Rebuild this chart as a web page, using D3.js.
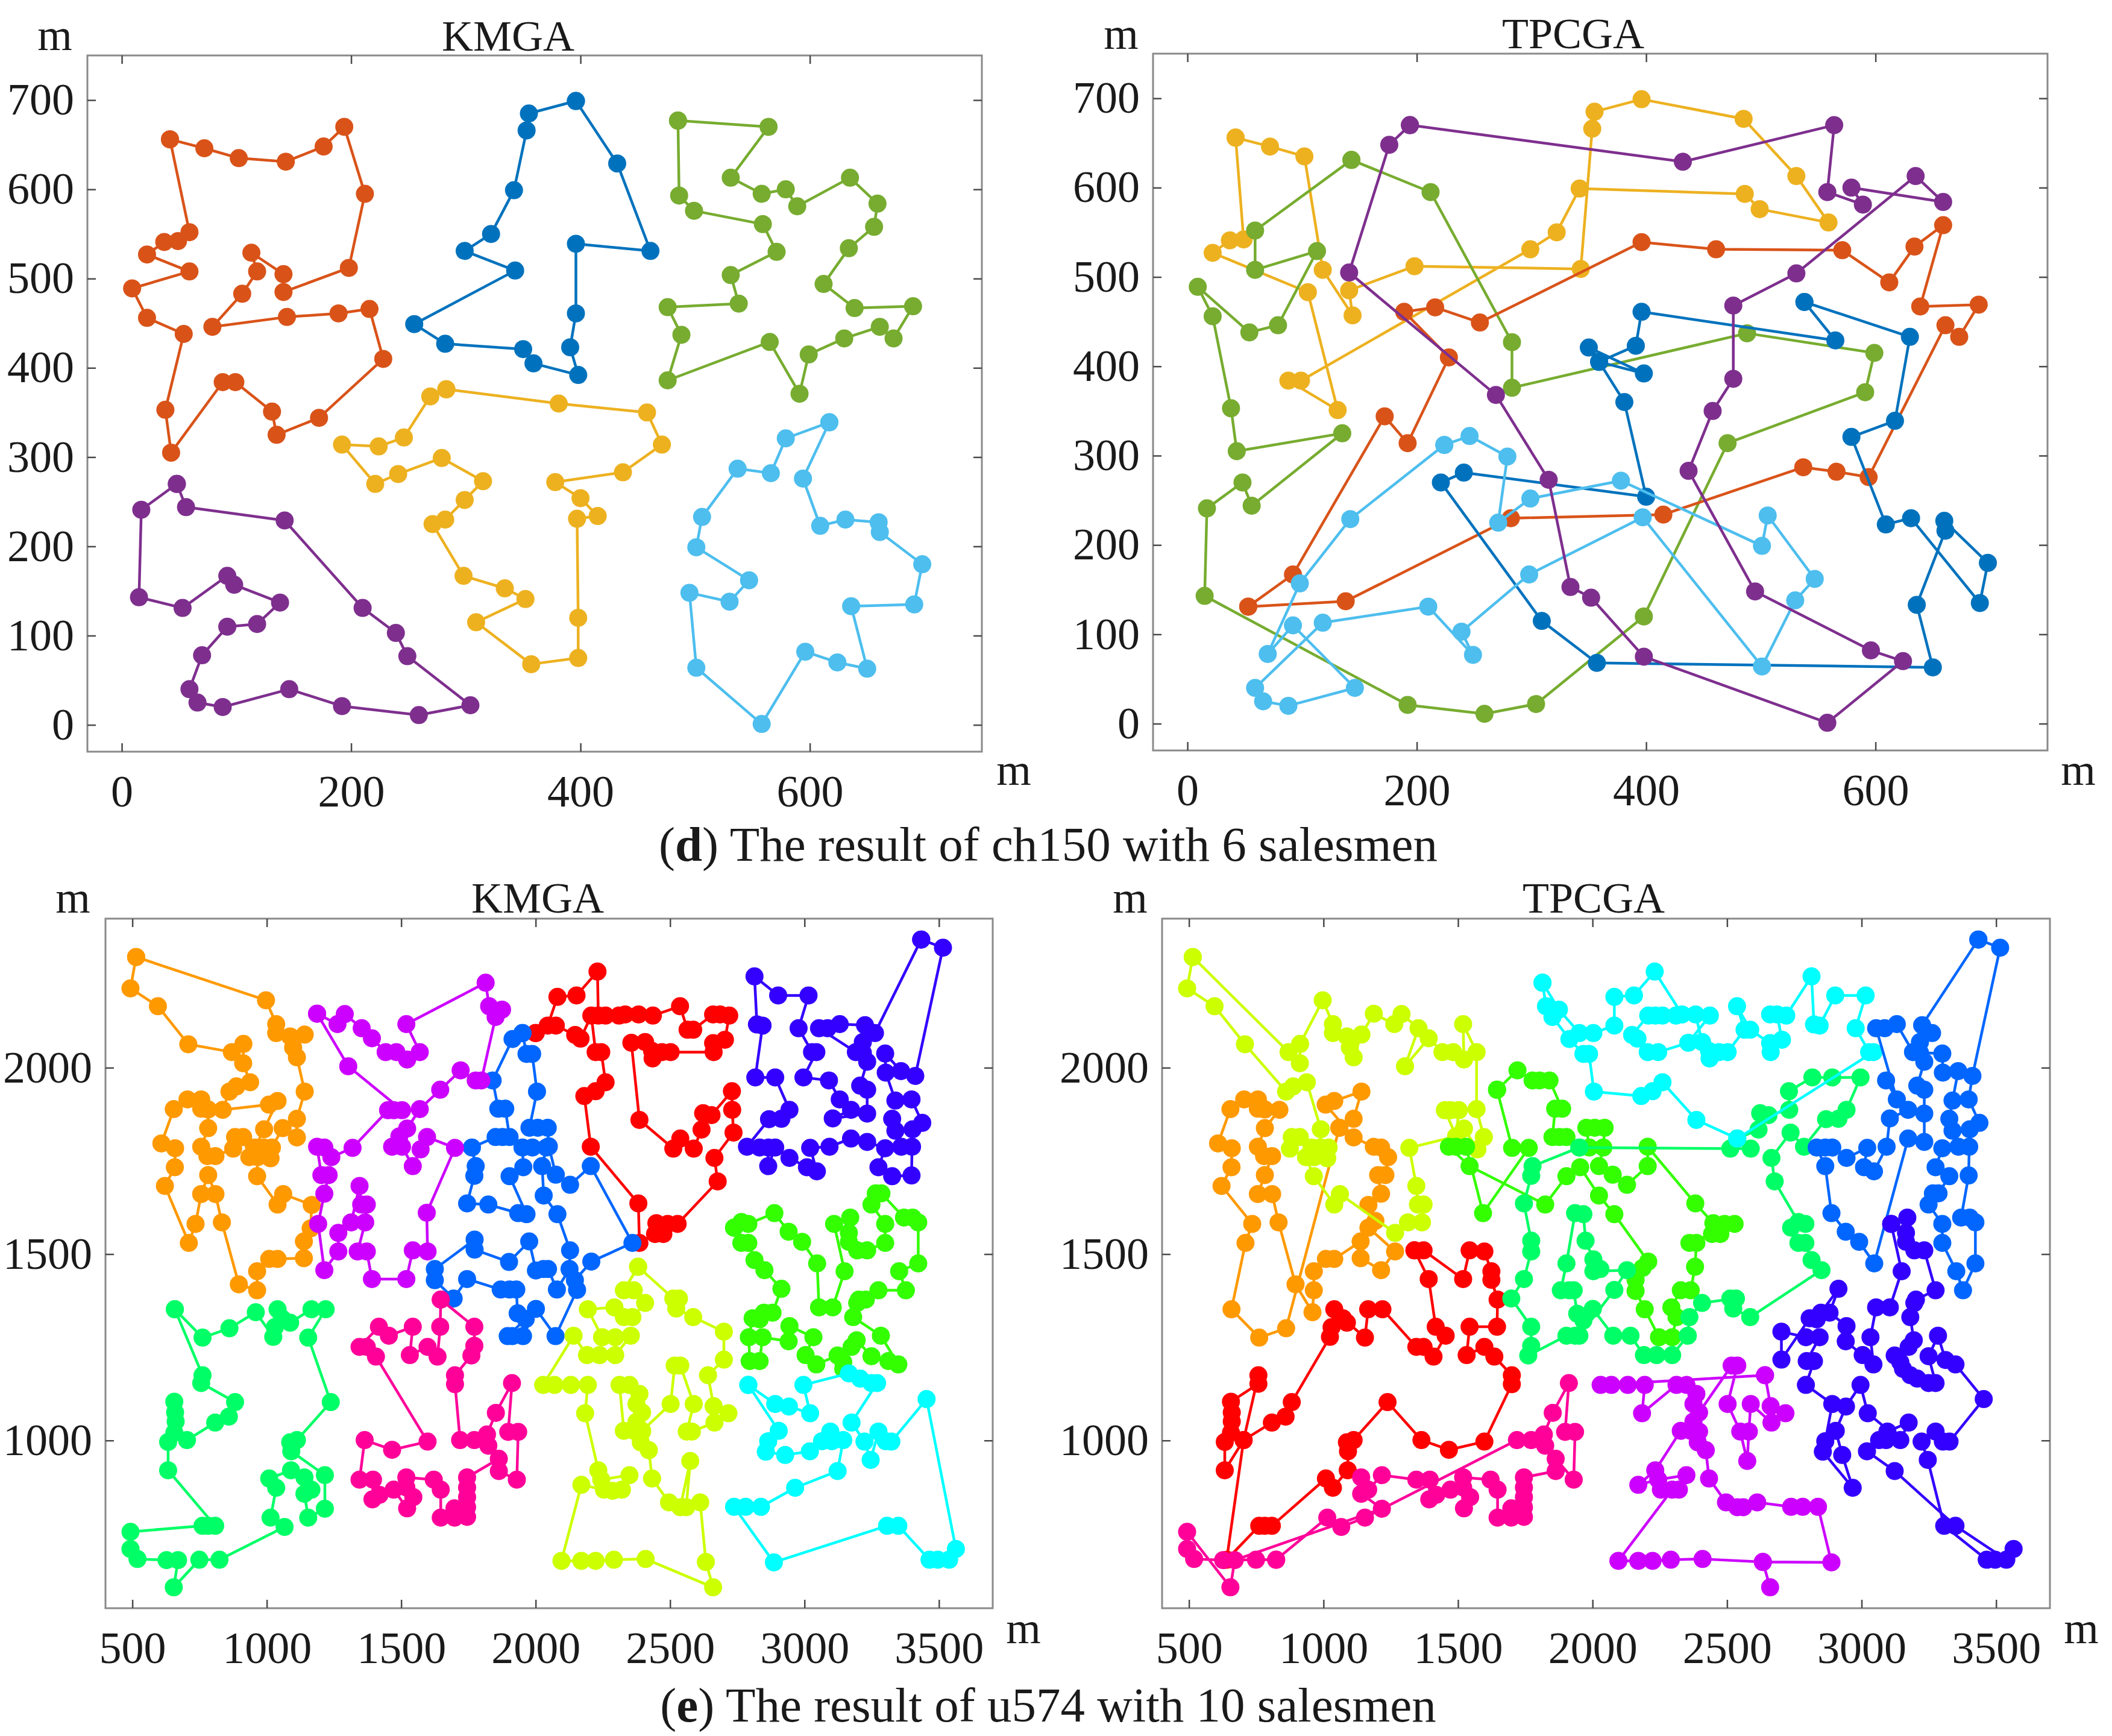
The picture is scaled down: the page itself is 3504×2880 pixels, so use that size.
<!DOCTYPE html>
<html><head><meta charset="utf-8">
<script src="https://d3js.org/d3.v7.min.js"></script>
<style>html,body{margin:0;padding:0;background:#fff}svg{display:block}text{font-family:"Liberation Serif",serif;fill:#1a1a1a}</style>
</head><body><svg id="c" width="3504" height="2880" viewBox="0 0 3504 2880"></svg>
<script>
// ---- tick labels ----
const ch150XTicks=[0,200,400,600];
const ch150YTicks=[0,100,200,300,400,500,600,700];
const u574XTicks=[500,1000,1500,2000,2500,3000,3500];
const u574YTicks=[1000,1500,2000];
const ch150Domain=[-30,750];
const u574XDomain=[400,3700];
const u574YDomain=[550,2400];
// ---- colours ----
const colOrangeRed="#D95319",colBlue="#0072BD",colGreen="#77AC30",colYellow="#EDB120",colSky="#4DBEEE",colPurple="#7E2F8E";
const hRed="#FF0000",hOrange="#FF9900",hLime="#CCFF00",hGreen="#33FF00",hSpring="#00FF66",hCyan="#00FFFF",hBlue="#0066FF",hIndigo="#3300FF",hViolet="#CC00FF",hPink="#FF0099";
// ---- ch150 KMGA routes ----
const dK_orange=[[42,656],[72,646],[102,635],[143,631],[176,648],[194,670],[212,595],[198,512],[141,485],[141,505],[113,529],[118,508],[105,483],[79,446],[144,457],[189,461],[216,466],[228,410],[172,344],[135,325],[131,351],[99,384],[88,384],[43,305],[38,353],[54,438],[22,456],[9,489],[59,508],[22,527],[37,541],[49,542],[59,552],[42,656]];
const dK_blue=[[396,699],[355,685],[353,666],[342,599],[322,550],[299,531],[343,509],[255,449],[282,427],[350,421],[359,405],[398,392],[391,423],[396,461],[396,539],[461,531],[432,629],[396,699]];
const dK_green=[[485,677],[564,670],[531,613],[558,595],[579,600],[589,581],[635,613],[659,584],[656,558],[634,534],[612,494],[639,467],[690,469],[673,433],[661,446],[630,433],[599,415],[591,371],[565,429],[476,386],[488,437],[476,468],[538,472],[531,504],[571,530],[559,561],[499,576],[486,593],[485,677]];
const dK_yellow=[[283,376],[269,368],[246,322],[224,312],[192,314],[221,270],[241,281],[279,299],[315,273],[299,252],[282,230],[271,225],[298,167],[334,153],[352,141],[309,115],[357,68],[398,75],[398,120],[397,231],[415,234],[400,254],[378,272],[437,283],[471,314],[458,350],[381,360],[283,376]];
const dK_sky=[[617,339],[579,321],[566,282],[537,287],[506,233],[501,199],[547,162],[530,138],[495,148],[501,64],[558,1],[596,82],[624,70],[650,63],[636,133],[691,135],[698,180],[661,216],[660,227],[631,230],[609,223],[594,276],[617,339]];
const dK_purple=[[48,270],[17,241],[15,143],[53,131],[92,167],[98,157],[138,137],[118,113],[92,110],[70,78],[59,40],[66,25],[88,20],[146,40],[192,21],[259,11],[304,22],[249,77],[239,103],[210,131],[142,229],[56,244],[48,270]];
// ---- ch150 TPCGA routes ----
const dT_yellow=[[42,656],[72,646],[102,635],[118,508],[144,457],[141,485],[198,512],[343,509],[353,666],[355,685],[396,699],[485,677],[531,613],[559,561],[499,576],[486,593],[342,599],[322,550],[299,531],[99,384],[88,384],[131,351],[105,483],[22,527],[37,541],[49,542],[42,656]];
const dT_green=[[143,631],[59,552],[59,508],[113,529],[79,446],[54,438],[9,489],[22,456],[38,353],[43,305],[135,325],[56,244],[48,270],[17,241],[15,143],[192,21],[259,11],[304,22],[398,120],[471,314],[591,371],[599,415],[488,437],[283,376],[283,427],[212,595],[143,631]];
const dT_orange=[[53,131],[138,137],[282,230],[415,234],[537,287],[566,282],[594,276],[661,446],[673,433],[690,469],[639,467],[659,558],[634,534],[612,494],[571,530],[461,531],[396,539],[255,449],[216,466],[189,461],[228,410],[192,314],[172,344],[92,167],[53,131]];
const dT_blue=[[538,472],[565,429],[396,461],[391,423],[359,405],[398,392],[350,421],[359,405],[381,360],[400,254],[241,281],[221,270],[309,115],[357,68],[650,63],[636,133],[661,216],[660,227],[698,180],[691,135],[631,230],[609,223],[579,321],[617,339],[630,433],[538,472]];
const dT_sky=[[224,312],[246,322],[279,299],[271,225],[299,252],[378,272],[501,199],[506,233],[547,162],[530,138],[501,64],[397,231],[298,167],[239,103],[249,77],[210,131],[118,113],[59,40],[66,25],[88,20],[146,40],[92,110],[70,78],[98,157],[142,229],[224,312]];
const dT_purple=[[194,670],[176,648],[141,505],[269,368],[315,273],[334,153],[352,141],[398,75],[558,1],[624,70],[596,82],[495,148],[437,283],[458,350],[476,386],[476,468],[531,504],[635,613],[659,584],[579,600],[589,581],[558,595],[564,670],[432,629],[194,670]];
// ---- u574 KMGA routes ----
const eK_orange=[[514,2297],[493,2213],[595,2165],[708,2063],[870,2042],[913,2064],[912,2012],[938,1961],[887,1950],[861,1936],[836,1887],[1008,1901],[1040,1911],[990,1835],[956,1786],[935,1760],[912,1814],[882,1814],[875,1783],[809,1763],[779,1763],[756,1788],[782,1838],[782,1888],[756,1890],[756,1915],[705,1915],[654,1889],[608,1797],[659,1784],[658,1733],[621,1683],[710,1530],[735,1581],[756,1661],[782,1712],[809,1661],[833,1585],[896,1419],[964,1403],[964,1454],[1009,1487],[1040,1487],[1138,1489],[1138,1534],[1163,1569],[1167,1632],[1061,1661],[1040,1633],[964,1709],[966,1760],[988,1786],[1014,1757],[1019,1786],[1059,1838],[1112,1813],[1112,1863],[1141,1936],[1112,2028],[1098,2054],[1141,2089],[1087,2084],[1035,2093],[1035,2117],[997,2181],[514,2297]];
const eK_red=[[2000,2093],[2045,2113],[2081,2190],[2152,2194],[2230,2258],[2233,2140],[2260,2140],[2310,2140],[2333,2143],[2383,2143],[2436,2140],[2537,2165],[2565,2102],[2586,2102],[2660,2143],[2686,2143],[2720,2140],[2704,2075],[2660,2066],[2662,2042],[2502,2042],[2470,2042],[2435,2025],[2433,2045],[2407,2069],[2356,2067],[2386,1860],[2512,1783],[2538,1810],[2588,1783],[2617,1834],[2623,1878],[2654,1873],[2730,1937],[2731,1887],[2736,1826],[2665,1758],[2677,1695],[2528,1581],[2491,1581],[2449,1583],[2475,1554],[2444,1554],[2386,1530],[2382,1636],[2205,1788],[2181,1924],[2223,1937],[2260,1961],[2244,2042],[2223,2042],[2207,2140],[2167,2078],[2147,2088],[2075,2113],[2000,2093]];
const eK_blue=[[1951,2093],[1914,2077],[1840,1966],[1861,1890],[1887,1890],[1903,1814],[1877,1814],[1851,1814],[1763,1786],[1777,1736],[1772,1710],[1745,1636],[1824,1633],[1935,1610],[1966,1607],[1903,1709],[1954,1733],[1951,1786],[1988,1786],[2040,1786],[2024,1736],[2030,1657],[2081,1607],[2128,1510],[2126,1460],[2079,1405],[2046,1460],[2029,1460],[2001,1456],[1976,1534],[1901,1479],[1773,1512],[1773,1539],[1625,1460],[1625,1430],[1695,1381],[1745,1433],[1870,1405],[1903,1405],[1928,1405],[1933,1341],[1963,1326],[1896,1280],[1913,1280],[1953,1280],[2001,1353],[2074,1280],[2154,1404],[2146,1430],[2207,1480],[2360,1530],[2205,1736],[2128,1686],[2075,1713],[2049,1789],[2045,1839],[2008,1839],[1977,1839],[2005,1936],[1987,2037],[1966,2037],[1951,2093]];
const eK_violet=[[1187,2145],[1263,2117],[1290,2144],[1353,2106],[1391,2079],[1442,2042],[1482,2042],[1522,2022],[1569,2042],[1519,2117],[1814,2228],[1827,2165],[1875,2156],[1851,2136],[1798,1966],[1777,1966],[1721,1993],[1645,1941],[1569,1889],[1522,1837],[1493,1816],[1466,1788],[1503,1788],[1543,1736],[1572,1781],[1596,1814],[1700,1785],[1595,1611],[1598,1507],[1543,1510],[1519,1433],[1391,1433],[1372,1507],[1338,1507],[1366,1585],[1372,1633],[1351,1633],[1345,1683],[1314,1585],[1266,1557],[1266,1507],[1214,1457],[1191,1581],[1214,1662],[1230,1712],[1203,1712],[1187,1788],[1214,1786],[1240,1760],[1319,1785],[1451,1886],[1472,1886],[1503,1886],[1303,2004],[1187,2145]];
const eK_indigo=[[3434,2344],[3515,2322],[3412,1978],[3359,1991],[3300,2038],[3302,1987],[3338,1912],[3398,1915],[3438,1852],[3402,1835],[3338,1831],[3326,1863],[3360,1788],[3400,1788],[3398,1711],[3326,1709],[3275,1733],[3300,1784],[3233,1801],[3173,1810],[3093,1788],[3021,1785],[3046,1722],[3009,1733],[2944,1758],[2891,1786],[2865,1736],[2865,1786],[2833,1786],[2786,1788],[2868,1862],[2914,1863],[2944,1887],[2891,1974],[2817,1974],[2844,2113],[2823,2116],[2814,2245],[2902,2194],[3015,2194],[2978,2106],[3028,2042],[3044,2042],[2996,1974],[3091,1966],[3131,1915],[3173,1887],[3105,1864],[3233,1877],[3233,1941],[3207,1952],[3233,2016],[3217,2069],[3217,2040],[3191,2042],[3054,2106],[3086,2106],[3131,2117],[3225,2114],[3262,2093],[3434,2344]];
const eK_green=[[2738,1571],[2765,1586],[2791,1581],[2888,1610],[2941,1560],[2991,1533],[3047,1475],[3054,1357],[3105,1357],[3149,1454],[3110,1581],[3170,1598],[3165,1557],[3165,1533],[3196,1510],[3233,1510],[3300,1530],[3300,1581],[3249,1633],[3265,1663],[3286,1663],[3370,1598],[3402,1598],[3423,1585],[3423,1475],[3352,1454],[3377,1403],[3275,1403],[3228,1378],[3202,1378],[3196,1369],[3181,1331],[3284,1281],[3349,1204],[3312,1213],[3249,1226],[3194,1269],[3175,1251],[3144,1210],[3144,1192],[3123,1228],[3044,1204],[3004,1229],[3033,1277],[2944,1307],[2941,1266],[2844,1277],[2833,1213],[2796,1213],[2793,1277],[2807,1328],[2833,1325],[2849,1343],[2881,1343],[2914,1407],[2851,1457],[2814,1484],[2791,1530],[2765,1530],[2738,1571]];
const eK_lime=[[2381,1466],[2512,1381],[2533,1381],[2523,1354],[2586,1331],[2700,1292],[2700,1217],[2641,1175],[2662,1092],[2717,1073],[2665,1048],[2581,1024],[2562,1024],[2588,1098],[2538,1201],[2517,1201],[2502,1098],[2396,1026],[2365,1026],[2328,1026],[2312,1149],[2349,1149],[2386,1125],[2375,1098],[2396,1075],[2375,1050],[2396,1024],[2391,995],[2421,974],[2433,898],[2496,834],[2538,821],[2575,945],[2560,821],[2612,834],[2633,674],[2660,606],[2409,682],[2291,680],[2223,677],[2170,677],[2096,677],[2170,881],[2254,868],[2286,865],[2321,868],[2349,907],[2244,895],[2233,920],[2184,1073],[2194,1149],[2131,1149],[2070,1149],[2028,1149],[2141,1281],[2191,1229],[2238,1229],[2296,1229],[2354,1281],[2296,1277],[2247,1277],[2194,1352],[2293,1357],[2328,1331],[2360,1331],[2407,1369],[2365,1403],[2328,1403],[2381,1466]];
const eK_cyan=[[2791,1149],[2891,1098],[2942,1091],[3021,1073],[2996,1149],[3165,1180],[3207,1166],[3249,1154],[3270,1154],[3175,1048],[3223,997],[3246,948],[3275,1024],[3302,998],[3323,997],[3454,1111],[3563,709],[3538,680],[3496,680],[3465,680],[3349,771],[3307,771],[2886,673],[2738,822],[2781,822],[2838,822],[2965,873],[3123,918],[3144,1001],[3096,1024],[3102,998],[3065,998],[3020,971],[2928,961],[2856,970],[2865,998],[2904,1026],[2791,1149]];
const eK_spring=[[658,1352],[761,1276],[861,1301],[959,1344],[1024,1278],[1030,1304],[1056,1328],[1040,1352],[1087,1316],[1166,1352],[1219,1352],[1154,1276],[1238,1103],[1112,1001],[1087,995],[1091,971],[1216,907],[1216,817],[1154,793],[1140,857],[1166,868],[1140,901],[1090,920],[1009,898],[1035,873],[1014,793],[1066,768],[824,680],[749,680],[654,606],[670,679],[627,679],[519,682],[493,709],[493,755],[761,771],[782,771],[808,771],[633,920],[633,996],[656,1104],[659,1075],[661,1051],[656,1021],[703,1001],[808,1048],[859,1064],[882,1103],[756,1154],[761,1175],[658,1352]];
const eK_pink=[[1647,1378],[1772,1305],[1772,1254],[1761,1228],[1700,1175],[1700,1151],[1719,1001],[1772,1001],[1824,986],[1819,1016],[1852,1074],[1912,1154],[1898,1023],[1935,1023],[1930,895],[1863,918],[1863,951],[1745,901],[1745,874],[1745,848],[1745,821],[1745,795],[1698,818],[1698,793],[1647,793],[1647,868],[1621,895],[1519,901],[1519,874],[1545,848],[1522,818],[1472,868],[1419,854],[1393,842],[1395,895],[1345,895],[1364,1001],[1466,975],[1598,997],[1406,1225],[1372,1251],[1345,1251],[1417,1305],[1454,1281],[1543,1305],[1532,1229],[1598,1251],[1635,1225],[1645,1305],[1647,1378]];
// ---- u574 TPCGA routes ----
const eT_red=[[1338,1510],[1391,1433],[1417,1305],[1454,1281],[1409,1225],[1372,1251],[1345,1251],[1219,1352],[1166,1352],[1154,1276],[1072,1328],[1087,1316],[1040,1352],[1030,1304],[1024,1278],[882,1103],[859,1064],[808,1048],[703,1001],[633,920],[633,996],[656,1021],[659,1051],[659,1075],[656,1104],[758,1152],[758,1175],[703,1001],[640,680],[761,771],[782,771],[808,771],[1009,898],[1035,873],[1090,920],[1091,971],[1087,995],[1112,1001],[1238,1103],[1364,1001],[1466,975],[1598,997],[1700,1151],[1700,1175],[1635,1225],[1598,1251],[1532,1229],[1543,1305],[1645,1305],[1647,1378],[1624,1431],[1624,1454],[1598,1507],[1543,1510],[1519,1433],[1372,1510],[1338,1510]];
const eT_orange=[[1059,1839],[861,1301],[761,1276],[658,1352],[710,1530],[735,1581],[621,1683],[658,1733],[659,1784],[608,1797],[654,1889],[705,1915],[756,1915],[756,1890],[782,1888],[836,1887],[782,1838],[756,1788],[779,1763],[809,1763],[782,1712],[756,1661],[809,1661],[833,1585],[896,1419],[959,1344],[964,1403],[964,1454],[1009,1487],[1040,1487],[1138,1534],[1138,1489],[1214,1457],[1266,1507],[1167,1571],[1193,1589],[1167,1632],[1214,1662],[1203,1712],[1230,1712],[1240,1760],[1214,1786],[1187,1788],[1112,1813],[1008,1901],[1040,1911],[1141,1936],[1112,1863],[1059,1839]];
const eT_lime=[[514,2297],[870,2042],[912,2012],[913,2064],[997,2181],[1035,2117],[1035,2093],[1087,2084],[1098,2054],[1112,2028],[1141,2089],[1187,2145],[1263,2117],[1290,2144],[1353,2106],[1303,2004],[1391,2079],[1442,2042],[1482,2042],[1522,2022],[1519,2117],[1569,2042],[1569,1889],[1596,1814],[1572,1781],[1522,1837],[1493,1816],[1503,1886],[1472,1886],[1451,1886],[1493,1816],[1319,1785],[1345,1683],[1351,1633],[1372,1633],[1366,1585],[1314,1585],[1266,1557],[1061,1661],[1040,1633],[964,1709],[935,1760],[875,1783],[882,1814],[912,1814],[956,1786],[966,1760],[1014,1757],[1019,1786],[988,1786],[990,1835],[938,1961],[887,1950],[861,1936],[708,2063],[595,2165],[493,2213],[514,2297]];
const eT_green=[[1645,1941],[1721,1993],[1777,1966],[1803,1966],[1840,1966],[1887,1890],[1861,1890],[1851,1814],[1877,1814],[1903,1814],[1988,1786],[1977,1839],[2008,1839],[2045,1839],[2040,1786],[2024,1736],[2075,1713],[2128,1686],[2205,1736],[2205,1788],[2382,1636],[2449,1583],[2491,1581],[2528,1581],[2475,1554],[2444,1554],[2360,1530],[2386,1530],[2381,1466],[2365,1403],[2328,1403],[2293,1357],[2312,1331],[2296,1277],[2247,1277],[2194,1352],[2160,1401],[2160,1431],[2186,1463],[2207,1480],[2081,1607],[2024,1657],[1954,1733],[1903,1709],[1824,1633],[1543,1736],[1466,1788],[1493,1788],[1530,1788],[1593,1610],[1763,1785],[1701,1785],[1645,1941]];
const eT_spring=[[1951,1786],[2512,1783],[2588,1783],[2538,1810],[2617,1834],[2623,1878],[2654,1873],[2731,1887],[2730,1937],[2817,1974],[2891,1974],[2996,1974],[2944,1887],[2914,1863],[2868,1862],[2786,1788],[2736,1826],[2665,1758],[2677,1695],[2765,1586],[2791,1581],[2738,1571],[2765,1530],[2791,1530],[2814,1484],[2851,1457],[2586,1331],[2523,1354],[2512,1381],[2533,1381],[2407,1369],[2360,1331],[2354,1281],[2296,1229],[2238,1229],[2191,1229],[2141,1281],[2077,1281],[2001,1353],[1966,1322],[1943,1340],[1930,1403],[1914,1403],[1882,1403],[1903,1475],[1935,1610],[1966,1607],[1974,1536],[2003,1486],[2029,1460],[2003,1454],[2128,1457],[2081,1404],[1951,1281],[1935,1281],[1903,1281],[1761,1228],[1772,1254],[1772,1305],[1698,1381],[1745,1433],[1772,1507],[1772,1536],[1745,1636],[1772,1710],[1777,1736],[1951,1786]];
const eT_cyan=[[1814,2228],[1875,2156],[1951,2093],[2003,2093],[2081,2113],[2081,2190],[2154,2194],[2231,2258],[2333,2143],[2310,2140],[2260,2140],[2233,2140],[2207,2140],[2147,2088],[2167,2078],[2205,2042],[2244,2042],[2356,2067],[2436,2140],[2383,2143],[2407,2069],[2433,2045],[2435,2025],[2470,2042],[2502,2042],[2565,2102],[2537,2165],[2586,2102],[2660,2066],[2662,2042],[2704,2075],[2686,2143],[2660,2143],[2720,2140],[2814,2245],[2823,2116],[2844,2113],[2902,2194],[3015,2194],[2978,2106],[3028,2042],[3044,2042],[2538,1810],[2386,1860],[2260,1961],[2223,1937],[2181,1924],[2005,1936],[1987,2037],[1966,2037],[1914,2077],[1851,2136],[1827,2165],[1814,2228]];
const eT_blue=[[3434,2344],[3515,2322],[3412,1978],[3398,1915],[3438,1852],[3402,1835],[3400,1788],[3398,1711],[3370,1598],[3402,1598],[3423,1585],[3423,1475],[3377,1403],[3352,1454],[3300,1530],[3300,1581],[3249,1633],[3265,1663],[3286,1663],[3326,1709],[3275,1733],[3300,1784],[3360,1788],[3338,1831],[3326,1863],[3338,1912],[3359,1991],[3302,1987],[3300,2038],[3217,2040],[3191,2042],[3131,2117],[3086,2106],[3054,2106],[3131,1915],[3091,1966],[3173,1887],[3105,1864],[3093,1788],[3046,1722],[3009,1733],[3021,1785],[2944,1758],[2891,1786],[2865,1786],[2833,1786],[2865,1736],[2888,1610],[2941,1560],[2991,1533],[3047,1475],[3173,1810],[3233,1801],[3233,1877],[3233,1941],[3207,1952],[3233,2016],[3217,2069],[3262,2093],[3225,2114],[3434,2344]];
const eT_indigo=[[3110,1581],[3170,1598],[3165,1557],[3165,1533],[3196,1510],[3233,1510],[3275,1403],[3202,1378],[3196,1369],[3181,1331],[3194,1269],[3175,1251],[3123,1228],[3144,1210],[3154,1192],[3181,1175],[3207,1166],[3249,1154],[3275,1154],[3249,1226],[3284,1281],[3312,1216],[3349,1204],[3454,1111],[3327,997],[3302,997],[3275,1024],[3223,997],[3246,948],[3307,771],[3465,680],[3496,680],[3565,709],[3538,680],[3349,771],[3123,918],[3020,971],[3065,1001],[3091,1001],[3096,1024],[3175,1048],[3144,1001],[3023,1073],[2996,1149],[2942,1091],[2904,1026],[2928,961],[2967,873],[2856,970],[2865,998],[2891,1098],[2793,1149],[2823,1213],[2796,1213],[2844,1277],[2793,1277],[2702,1292],[2702,1217],[2807,1328],[2833,1325],[2849,1343],[2914,1407],[2881,1343],[2944,1307],[2941,1266],[3004,1229],[3044,1204],[3033,1277],[3054,1357],[3105,1357],[3149,1454],[3110,1581]];
const eT_violet=[[2641,1175],[2030,1149],[2070,1149],[2131,1149],[2194,1149],[2184,1073],[2312,1149],[2349,1149],[2386,1125],[2375,1098],[2375,1051],[2365,1026],[2328,1026],[2233,920],[2170,881],[2244,895],[2349,907],[2321,868],[2254,868],[2296,868],[2096,677],[2170,677],[2223,677],[2291,680],[2409,682],[2633,674],[2660,606],[2633,674],[2888,673],[2838,822],[2781,822],[2738,822],[2612,834],[2560,821],[2538,821],[2496,834],[2433,898],[2421,974],[2391,995],[2396,1024],[2396,1075],[2517,1201],[2538,1201],[2502,1098],[2549,1024],[2575,945],[2581,1024],[2588,1098],[2665,1048],[2717,1073],[2662,1092],[2641,1175]];
const eT_pink=[[824,680],[749,680],[627,679],[519,682],[493,709],[493,755],[654,606],[670,679],[1217,817],[1140,857],[1140,901],[1166,868],[1217,907],[1345,895],[1395,895],[1393,842],[1419,854],[1472,868],[1519,874],[1522,818],[1545,848],[1519,901],[1621,895],[1647,868],[1647,793],[1698,793],[1698,818],[1745,795],[1745,821],[1745,848],[1745,874],[1745,901],[1863,918],[1863,951],[1930,895],[1935,1023],[1898,1023],[1912,1154],[1852,1074],[1819,1016],[1824,986],[1772,1001],[1719,1001],[1154,793],[1066,768],[1014,793],[824,680]];

const svg=d3.select("#c");
svg.append("rect").attr("width",3504).attr("height",2880).attr("fill","#fff");
const FS=74;
const panels=[
 {title:"KMGA",box:[145,92,1629,1247],xd:ch150Domain,yd:ch150Domain,xt:ch150XTicks,yt:ch150YTicks,tp:[843,84],m1:[91,83],m2:[1682,1302],
  routes:[[dK_orange,colOrangeRed],[dK_blue,colBlue],[dK_green,colGreen],[dK_yellow,colYellow],[dK_sky,colSky],[dK_purple,colPurple]]},
 {title:"TPCGA",box:[1913,89,3397,1245],xd:ch150Domain,yd:ch150Domain,xt:ch150XTicks,yt:ch150YTicks,tp:[2610,80],m1:[1860,81],m2:[3448,1302],
  routes:[[dT_yellow,colYellow],[dT_green,colGreen],[dT_orange,colOrangeRed],[dT_blue,colBlue],[dT_sky,colSky],[dT_purple,colPurple]]},
 {title:"KMGA",box:[175,1524,1647,2668],xd:u574XDomain,yd:u574YDomain,xt:u574XTicks,yt:u574YTicks,tp:[892,1514],m1:[121,1514],m2:[1698,2726],
  routes:[[eK_orange,hOrange],[eK_red,hRed],[eK_blue,hBlue],[eK_violet,hViolet],[eK_indigo,hIndigo],[eK_green,hGreen],[eK_lime,hLime],[eK_cyan,hCyan],[eK_spring,hSpring],[eK_pink,hPink]]},
 {title:"TPCGA",box:[1928,1524,3401,2668],xd:u574XDomain,yd:u574YDomain,xt:u574XTicks,yt:u574YTicks,tp:[2644,1514],m1:[1875,1514],m2:[3453,2726],
  routes:[[eT_red,hRed],[eT_orange,hOrange],[eT_lime,hLime],[eT_green,hGreen],[eT_spring,hSpring],[eT_cyan,hCyan],[eT_blue,hBlue],[eT_indigo,hIndigo],[eT_violet,hViolet],[eT_pink,hPink]]}
];
panels.forEach(p=>{
  const [x0,y0,x1,y1]=p.box;
  const x=d3.scaleLinear().domain(p.xd).range([x0,x1]);
  const y=d3.scaleLinear().domain(p.yd).range([y1,y0]);
  const line=d3.line().x(d=>x(d[0])).y(d=>y(d[1]));
  const g=svg.append("g");
  g.append("rect").attr("x",x0).attr("y",y0).attr("width",x1-x0).attr("height",y1-y0).attr("fill","#fff").attr("stroke","#8a8a8a").attr("stroke-width",3);
  const axes=[
    [d3.axisBottom(x).tickValues(p.xt).tickSizeOuter(0).tickSizeInner(-14).tickPadding(38).tickFormat(d3.format("d")),[0,y1],true],
    [d3.axisTop(x).tickValues(p.xt).tickSizeOuter(0).tickSizeInner(-14).tickFormat(""),[0,y0],false],
    [d3.axisLeft(y).tickValues(p.yt).tickSizeOuter(0).tickSizeInner(-14).tickPadding(22).tickFormat(d3.format("d")),[x0,0],true],
    [d3.axisRight(y).tickValues(p.yt).tickSizeOuter(0).tickSizeInner(-14).tickFormat(""),[x1,0],false]
  ];
  axes.forEach(([ax,t])=>{
    const a=g.append("g").attr("transform",`translate(${t[0]},${t[1]})`).call(ax);
    a.select(".domain").remove();
    a.selectAll("line").attr("stroke","#4a4a4a").attr("stroke-width",2.5);
    a.selectAll("text").attr("font-size",FS).attr("font-family","Liberation Serif").attr("fill","#262626");
  });
  p.routes.forEach(([pts,c])=>{
    const r=g.append("g");
    r.append("path").attr("d",line(pts)).attr("fill","none").attr("stroke",c).attr("stroke-width",4.5).attr("stroke-linejoin","round");
    r.selectAll("circle").data(pts).join("circle").attr("cx",d=>x(d[0])).attr("cy",d=>y(d[1])).attr("r",15).attr("fill",c);
  });
  g.append("text").attr("x",p.tp[0]).attr("y",p.tp[1]).attr("text-anchor","middle").attr("font-size",72).text(p.title);
  g.append("text").attr("x",p.m1[0]).attr("y",p.m1[1]).attr("text-anchor","middle").attr("font-size",74).text("m");
  g.append("text").attr("x",p.m2[0]).attr("y",p.m2[1]).attr("text-anchor","middle").attr("font-size",74).text("m");
});
function caption(cx,by,letter,rest){
  const t=svg.append("text").attr("x",cx).attr("y",by).attr("text-anchor","middle").attr("font-size",81);
  t.append("tspan").text("(");
  t.append("tspan").attr("font-weight","bold").text(letter);
  t.append("tspan").text(") "+rest);
}
caption(1739,1428,"d","The result of ch150 with 6 salesmen");
caption(1739,2856,"e","The result of u574 with 10 salesmen");
</script></body></html>
